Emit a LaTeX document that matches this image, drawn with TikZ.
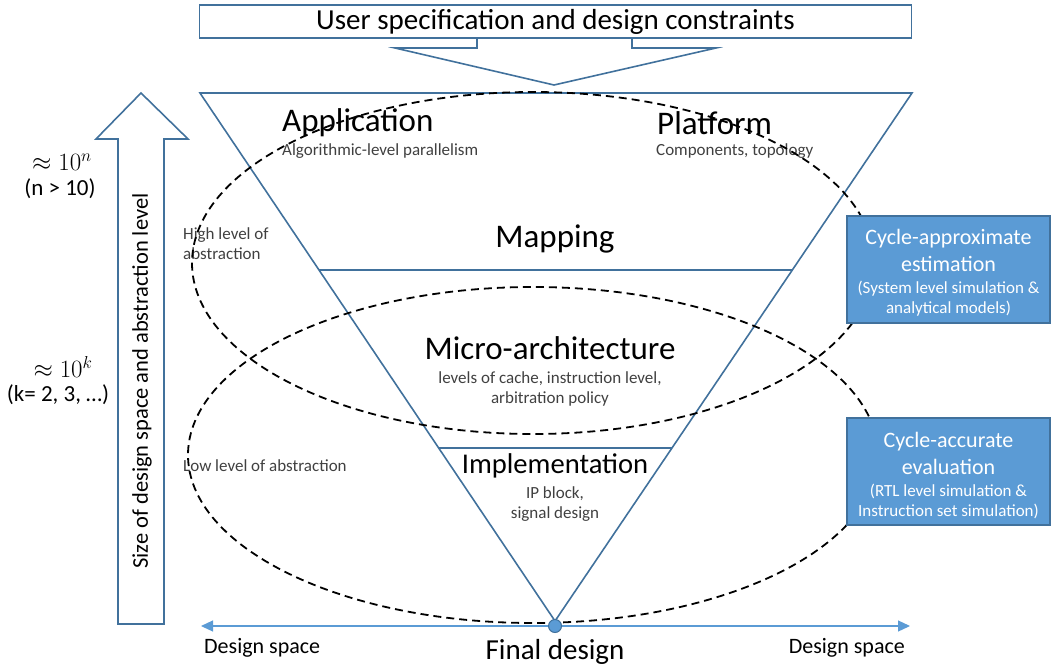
\documentclass[tikz,border=0pt]{standalone}
\usepackage{fontspec}
\setmainfont{Carlito}
\usetikzlibrary{arrows.meta,calc}
\definecolor{edge}{HTML}{41719C}
\definecolor{lblue}{HTML}{5B9BD5}
\definecolor{gtxt}{HTML}{404040}
\newcommand\boxbig{\fontsize{22}{27}\selectfont}
\newcommand\boxsmall{\fontsize{17}{20}\selectfont}
\begin{document}
\begin{tikzpicture}[x=1pt,y=-1pt,
  outline/.style={draw=edge, line width=1.6pt, line join=miter},
  head/.style={font=\fontsize{33}{38}\selectfont, inner sep=0pt},
  sub/.style={font=\fontsize{17}{20}\selectfont, text=gtxt, align=center, inner sep=0pt},
  side/.style={font=\fontsize{23}{28}\selectfont, inner sep=0pt},
  ell/.style={draw=black, line width=1.8pt, dash pattern=on 8pt off 5pt},
  bluebox/.style={fill=lblue, draw=edge, line width=1.2pt, minimum width=203pt, minimum height=107pt, inner sep=0pt, text=white, align=center, font=\boxbig},
  axis/.style={draw=lblue, line width=1.2pt, {Triangle[length=12pt,width=11pt]}-{Triangle[length=12pt,width=11pt]}},
  lbl/.style={font=\fontsize{22}{26}\selectfont, inner sep=0pt}
]
\useasboundingbox (0,0) rectangle (1051,669);
% top box and block arrow
\node[outline, minimum width=712pt, minimum height=33pt, inner sep=0pt, font=\fontsize{29}{33}\selectfont] (spec) at (555.5,21.5) {User specification and design constraints};
\draw[outline] (477,38) -- (477,48) -- (395,48) -- (554,85) -- (716,48) -- (632,48) -- (632,38);
% triangle
\coordinate (tl) at (200,93);
\coordinate (tr) at (912,93);
\coordinate (ap) at (555,621);
\draw[outline] (tl) -- (tr) -- (ap) -- cycle;
\draw[outline] ($(tl)!0.3352!(ap)$) coordinate (ml) -- ($(tr)!0.3352!(ap)$) coordinate (mr);
\draw[outline] ($(tl)!0.6723!(ap)$) coordinate (il) -- ($(tr)!0.6723!(ap)$) coordinate (ir);
% vertical block arrow
\draw[outline] (118,624) -- (118,139) -- (96,139) -- (141,93) -- (188,139) -- (164,139) -- (164,624) -- cycle;
\node[font=\fontsize{22.5}{26}\selectfont, rotate=90, inner sep=0pt] (size) at (142,381) {Size of design space and abstraction level};
% side labels
\node[side] (n1) at (62,162) {$\approx 10^{n}$};
\node[side] (n2) at (60,189) {(n > 10)};
\node[side] (k1) at (63,367) {$\approx 10^{k}$};
\node[side] (k2) at (58,395) {(k= 2, 3, …)};
% triangle texts
\node[head, anchor=west] (app) at (282,123) {Application};
\node[sub, anchor=west] (appsub) at (282,151) {Algorithmic-level parallelism};
\node[head, anchor=west] (plat) at (657,123) {Platform};
\node[sub, anchor=west] (platsub) at (656,151) {Components, topology};
\node[head] (map) at (555,239) {Mapping};
\node[head] (micro) at (550,348) {Micro-architecture};
\node[sub] (microsub) at (550,389) {levels of cache, instruction level,\\arbitration policy};
\node[head, font=\fontsize{28.6}{33}\selectfont] (impl) at (555,466) {Implementation};
\node[sub] (implsub) at (555,504) {IP block,\\signal design};
\node[sub, anchor=west, align=left] (high) at (183,244) {High level of\\abstraction};
\node[sub, anchor=west] (low) at (183,466) {Low level of abstraction};
% ellipses
\draw[ell] (533,263) ellipse [x radius=341, y radius=171];
\draw[ell] (533,455) ellipse [x radius=345, y radius=168];
% blue boxes
\node[bluebox] (approx) at (948.5,269.5) {\rule{0pt}{22.5pt}Cycle-approximate\\estimation\\[-5pt]{\boxsmall (System level simulation \&}\\[-7pt]{\boxsmall analytical models)}};
\node[bluebox] (accur) at (948.5,471.5) {\rule{0pt}{22.5pt}Cycle-accurate\\evaluation\\[-5pt]{\boxsmall (RTL level simulation \&}\\[-7pt]{\boxsmall Instruction set simulation)}};
% bottom axis
\coordinate (axl) at (201,626);
\coordinate (axr) at (910,626);
\draw[axis] (axl) -- (axr);
\node[circle, fill=lblue, draw=edge, line width=1pt, minimum size=13pt, inner sep=0pt] (fd) at (555,626) {};
\node[lbl, anchor=west] (dsl) at (204,648) {Design space};
\node[lbl, anchor=east] (dsr) at (905,648) {Design space};
\node[font=\fontsize{29}{33}\selectfont, inner sep=0pt] (final) at (555,652) {Final design};
\end{tikzpicture}
\end{document}
